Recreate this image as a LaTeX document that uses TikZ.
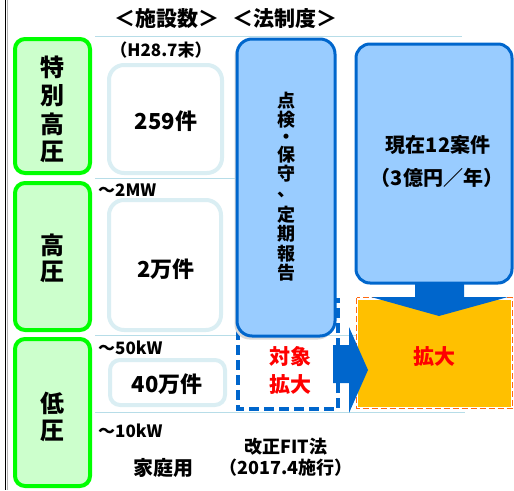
\documentclass[tikz,border=0pt]{standalone}
\usepackage{fontspec}
\setmainfont{Noto Sans CJK JP}
\definecolor{grn}{HTML}{00FF00}
\definecolor{grnfill}{HTML}{CCFFCC}
\definecolor{teal}{HTML}{B7DDE8}
\definecolor{cntbd}{HTML}{DAEEF3}
\definecolor{bluebd}{HTML}{0066CC}
\definecolor{bluefill}{HTML}{99CCFF}
\definecolor{orfill}{HTML}{FFC000}
\definecolor{orbd}{HTML}{FF6A13}
\definecolor{redtxt}{HTML}{FF0000}
\definecolor{shad}{HTML}{D9D9D9}
\tikzset{
  fs/.style={font=\fontsize{#1}{#1}\selectfont\bfseries},
  grnbox/.style={draw=grn, fill=grnfill, line width=4pt, rounded corners=10pt},
  cntbox/.style={draw=cntbd, fill=white, line width=4pt, rounded corners=15pt},
  bluebox/.style={draw=bluebd, fill=bluefill, line width=3pt, rounded corners=15pt},
  tline/.style={draw=teal, line width=1pt},
  barrow/.style={fill=bluebd},
  txt/.style={inner sep=0pt, align=center},
}
\begin{document}
\begin{tikzpicture}[x=1pt,y=-1pt]
\useasboundingbox (0,0) rectangle (514,490);
\begin{scope}
\clip (0,0) rectangle (514,490);
% left border
\draw[black, line width=1.6pt] (5.5,0) -- (5.5,490);
\draw[gray!60, line width=0.8pt] (7.5,0) -- (7.5,490);
% headers
\node[txt, fs=21] (h1) at (167,19) {＜施設数＞};
\node[txt, fs=21] (h2) at (285,19) {＜法制度＞};
% teal lines
\draw[tline] (95,36) -- (462,36);
\draw[tline] (95,178) -- (237,178);
\draw[tline] (95,335) -- (356,335);
\draw[tline] (95,412) -- (465,412);
% green boxes
\draw[grnbox] (15,39) rectangle (90,173);
\draw[grnbox] (15,183) rectangle (90,330);
\draw[grnbox] (15,339) rectangle (90,486);
\node[txt, fs=24] (g1a) at (52.5,67) {特};
\node[txt, fs=24] (g1b) at (52.5,96) {別};
\node[txt, fs=24] (g1c) at (52.5,124) {高};
\node[txt, fs=24] (g1d) at (52.5,152) {圧};
\node[txt, fs=24] (g2a) at (52.5,245) {高};
\node[txt, fs=24] (g2b) at (52.5,272) {圧};
\node[txt, fs=24] (g3a) at (52.5,403) {低};
\node[txt, fs=24] (g3b) at (52.5,431) {圧};
% count boxes
\draw[cntbox] (109,65) rectangle (222,173);
\draw[cntbox] (109,200) rectangle (221,330);
\draw[cntbox, rounded corners=10pt] (110,360) rectangle (225,405);
\node[txt, fs=22] (c1) at (166,121) {259件};
\node[txt, fs=22] (c2) at (166,269) {2万件};
\node[txt, fs=22] (c3) at (167,384) {40万件};
\node[txt, fs=17] (lh) at (161,50) {（H28.7末）};
\node[txt, fs=17, anchor=west] (l2) at (98,190) {〜2MW};
\node[txt, fs=17, anchor=west] (l3) at (98,348) {〜50kW};
\node[txt, fs=17, anchor=west] (l4) at (98,431) {〜10kW};
\node[txt, fs=20] (home) at (163,468) {家庭用};
% dashed target box
\draw[bluebd, line width=3.5pt, dash pattern=on 10pt off 5pt] (238,300) rectangle (338,409);
\node[txt, fs=21, text=redtxt] (t1) at (290,357) {対象};
\node[txt, fs=21, text=redtxt] (t2) at (290,384) {拡大};
% orange box
\fill[orfill] (356,298) rectangle (513,409);
\draw[white, line width=2.4pt] (357,299) rectangle (512,408);
\draw[orbd, line width=1.1pt, dash pattern=on 6pt off 3pt] (356.5,297.5) rectangle (512.5,408.5);
\node[txt, fs=21, text=redtxt] (ex) at (434,356) {拡大};
% right arrow
\fill[barrow] (333,345) -- (349,345) -- (349,327) -- (368,370) -- (349,413) -- (349,383) -- (333,383) -- cycle;
% down arrow
\fill[barrow] (415,280) -- (464,280) -- (464,297) -- (508,297) -- (439,316) -- (371,297) -- (415,297) -- cycle;
% blue boxes
\fill[shad, rounded corners=15pt] (234.5,42) rectangle (333,339.5);
\draw[bluebox] (237,39) rectangle (335,336);
\node[txt, font={\fontsize{18}{19.5}\selectfont\bfseries}] (v) at (286,187)
  {点\\[-0.5pt]検\\[-2.5pt]・\\[-2pt]保\\[-0.5pt]守\\[-3pt]、\\[5.3pt]定\\期\\報\\告};
\draw[bluebox, rounded corners=14pt] (356,44) rectangle (512,283);
\node[txt, fs=20] (cur1) at (438,145) {現在12案件};
\node[txt, fs=20] (cur2) at (437,178) {（3億円／年）};
% bottom label
\node[txt, fs=18] (fit1) at (286,447) {改正FIT法};
\node[txt, fs=18] (fit2) at (286,468) {（2017.4施行）};
\end{scope}
\end{tikzpicture}
\end{document}
